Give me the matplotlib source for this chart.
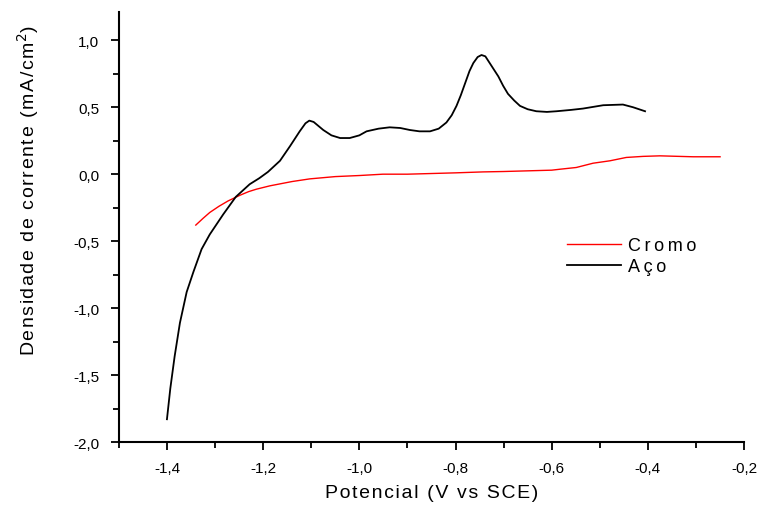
import numpy as np
import matplotlib.pyplot as plt
from matplotlib.ticker import MultipleLocator, FuncFormatter

plt.rcParams['font.family'] = ['Liberation Sans', 'DejaVu Sans']

# Aço (steel) - potential (V vs SCE) and current density (mA/cm2)
aco_x = [-1.400, -1.393, -1.384, -1.373, -1.359, -1.345, -1.328, -1.311, -1.283,
         -1.257, -1.228, -1.208, -1.190, -1.165, -1.144, -1.124, -1.112, -1.104,
         -1.095, -1.075, -1.058, -1.040, -1.020, -1.000, -0.985, -0.960,
         -0.937, -0.915, -0.895, -0.875, -0.853, -0.835, -0.819, -0.808, -0.798,
         -0.789, -0.780, -0.771, -0.763, -0.754, -0.746, -0.738, -0.729,
         -0.720, -0.711, -0.701, -0.691, -0.678, -0.666, -0.650, -0.632, -0.610,
         -0.590, -0.560, -0.535, -0.493, -0.452, -0.431, -0.406]
aco_y = [-1.83, -1.60, -1.36, -1.11, -0.88, -0.73, -0.56, -0.45, -0.30,
         -0.17, -0.075, -0.03, 0.017, 0.10, 0.21, 0.32, 0.38, 0.40,
         0.39, 0.33, 0.29, 0.27, 0.27, 0.29, 0.32, 0.34,
         0.35, 0.345, 0.33, 0.32, 0.32, 0.34, 0.386, 0.44, 0.51,
         0.59, 0.68, 0.77, 0.83, 0.875, 0.89, 0.88, 0.83,
         0.78, 0.73, 0.66, 0.60, 0.55, 0.51, 0.485, 0.47, 0.465,
         0.47, 0.48, 0.49, 0.515, 0.52, 0.50, 0.47]

# Cromo (chromium)
cromo_x = [-1.340, -1.325, -1.311, -1.292, -1.273, -1.248, -1.230, -1.214, -1.186,
           -1.140, -1.103, -1.05, -1.0, -0.951, -0.9, -0.8, -0.743, -0.7,
           -0.6, -0.583, -0.549, -0.514, -0.479, -0.445, -0.410, -0.375,
           -0.306, -0.25]
cromo_y = [-0.38, -0.33, -0.286, -0.24, -0.20, -0.157, -0.13, -0.112, -0.087,
           -0.055, -0.035, -0.018, -0.01, 0.0, 0.0, 0.01, 0.017, 0.02,
           0.03, 0.037, 0.05, 0.082, 0.10, 0.125, 0.133, 0.137,
           0.13, 0.13]

fig = plt.figure(figsize=(7.57, 5.06), dpi=100)
ax = fig.add_axes([0.157, 0.1245, 0.826, 0.8495])

ax.plot(cromo_x, cromo_y, color='#ff0000', lw=1.0, label='Cromo')
ax.plot(aco_x, aco_y, color='black', lw=1.3, label='Aço')

ax.set_xlim(-1.5, -0.2)
ax.set_ylim(-2.0, 1.21)

ax.xaxis.set_major_locator(MultipleLocator(0.2))
ax.xaxis.set_minor_locator(MultipleLocator(0.1))
ax.yaxis.set_major_locator(MultipleLocator(0.5))
ax.yaxis.set_minor_locator(MultipleLocator(0.25))
comma = FuncFormatter(lambda v, p: f"{v:.1f}".replace('.', ','))
ax.xaxis.set_major_formatter(comma)
ax.yaxis.set_major_formatter(comma)

for s in ['top', 'right']:
    ax.spines[s].set_visible(False)
for s in ['left', 'bottom']:
    ax.spines[s].set_linewidth(1.5)

ax.tick_params(which='major', direction='out', length=6, width=1.3,
               labelsize=11, pad=8)
ax.tick_params(which='minor', direction='out', length=4, width=1.3)

sp = '\u2009'   # thin space for the spaced-out labels
hs = '\u200a'   # hair space
ax.set_xlabel(hs.join('Potencial (V vs SCE)'), fontsize=14, labelpad=6)
ax.set_ylabel(hs.join('Densidade de corrente (mA/cm') + '$^2$)', fontsize=14)
ax.yaxis.set_label_coords(-0.125, 0.588)

leg = ax.legend(loc='upper left', bbox_to_anchor=(0.69, 0.515), frameon=False,
                fontsize=13, handlelength=3.0, handletextpad=0.4,
                labelspacing=0.25)
leg.get_texts()[0].set_text(sp.join('Cromo'))
leg.get_texts()[1].set_text(sp.join('Aço'))

fig.savefig('out.png', dpi=100)
